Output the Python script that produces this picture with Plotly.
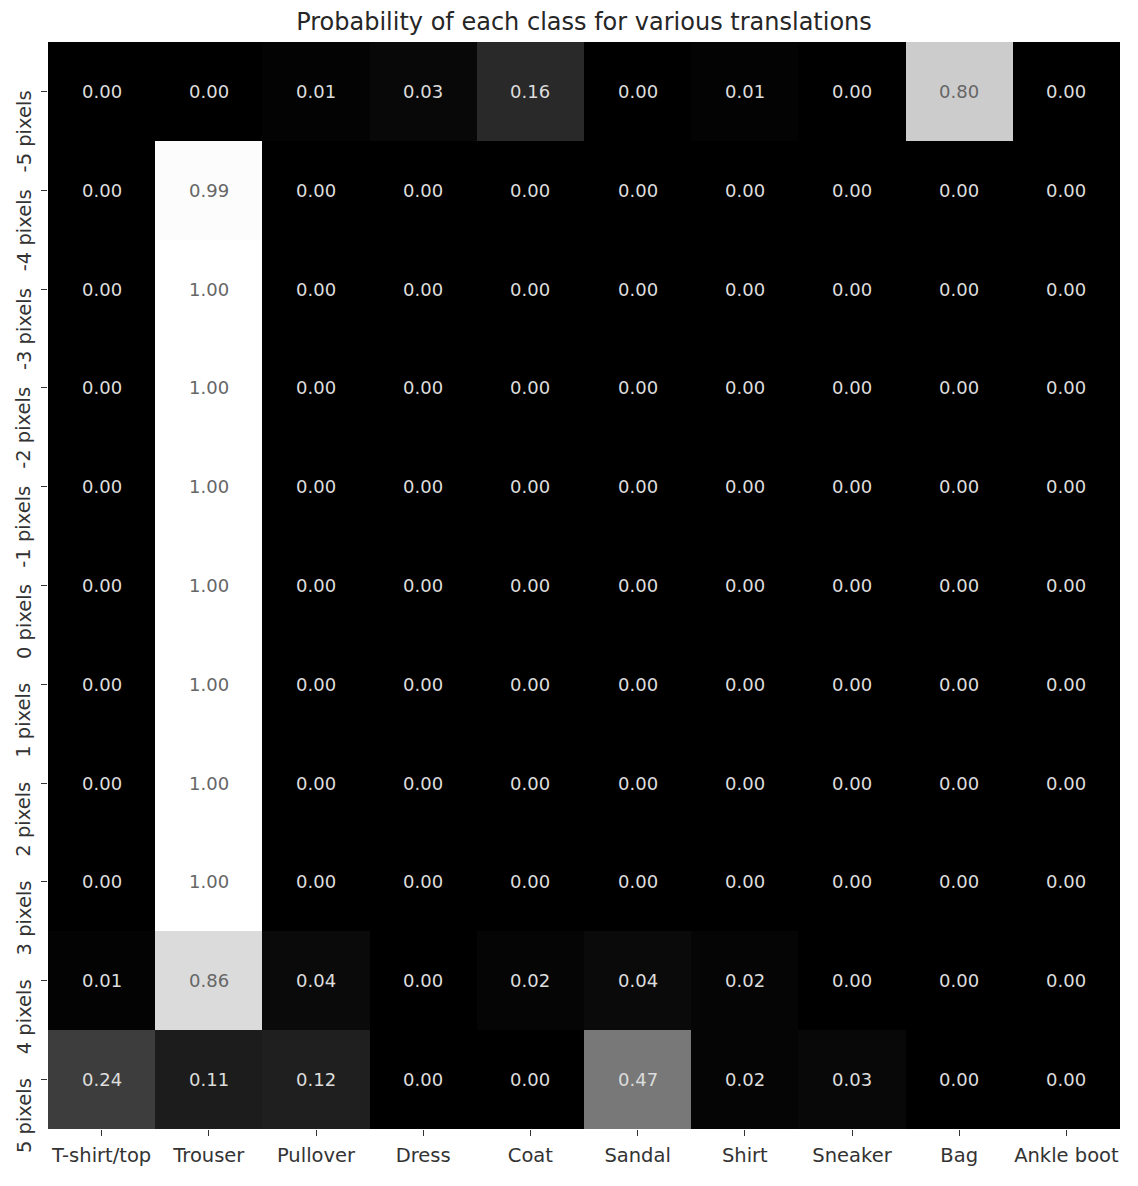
import plotly.graph_objects as go

classes = ["T-shirt/top", "Trouser", "Pullover", "Dress", "Coat",
           "Sandal", "Shirt", "Sneaker", "Bag", "Ankle boot"]
shifts = ["-5 pixels", "-4 pixels", "-3 pixels", "-2 pixels", "-1 pixels",
          "0 pixels", "1 pixels", "2 pixels", "3 pixels", "4 pixels", "5 pixels"]

row_m5 = [0.00, 0.00, 0.01, 0.03, 0.16, 0.00, 0.01, 0.00, 0.80, 0.00]
row_m4 = [0.00, 0.99, 0.00, 0.00, 0.00, 0.00, 0.00, 0.00, 0.00, 0.00]
row_m3 = [0.00, 1.00, 0.00, 0.00, 0.00, 0.00, 0.00, 0.00, 0.00, 0.00]
row_m2 = [0.00, 1.00, 0.00, 0.00, 0.00, 0.00, 0.00, 0.00, 0.00, 0.00]
row_m1 = [0.00, 1.00, 0.00, 0.00, 0.00, 0.00, 0.00, 0.00, 0.00, 0.00]
row_0 = [0.00, 1.00, 0.00, 0.00, 0.00, 0.00, 0.00, 0.00, 0.00, 0.00]
row_1 = [0.00, 1.00, 0.00, 0.00, 0.00, 0.00, 0.00, 0.00, 0.00, 0.00]
row_2 = [0.00, 1.00, 0.00, 0.00, 0.00, 0.00, 0.00, 0.00, 0.00, 0.00]
row_3 = [0.00, 1.00, 0.00, 0.00, 0.00, 0.00, 0.00, 0.00, 0.00, 0.00]
row_4 = [0.01, 0.86, 0.04, 0.00, 0.02, 0.04, 0.02, 0.00, 0.00, 0.00]
row_5 = [0.24, 0.11, 0.12, 0.00, 0.00, 0.47, 0.02, 0.03, 0.00, 0.00]

z = [row_m5, row_m4, row_m3, row_m2, row_m1, row_0, row_1, row_2, row_3, row_4, row_5]

FONT = "DejaVu Sans"

fig = go.Figure()
fig.add_trace(go.Heatmap(
    z=z, x=classes, y=shifts,
    colorscale=[[0, "#000000"], [1, "#ffffff"]],
    zmin=0, zmax=1, showscale=False, hoverinfo="skip",
))

annotations = []
for i, s in enumerate(shifts):
    for j, c in enumerate(classes):
        v = z[i][j]
        col = "#666666" if v > 0.6 else "#dddddd"
        annotations.append(dict(
            x=c, y=s, xref="x", yref="y", text=f"{v:.2f}", showarrow=False,
            font=dict(family=FONT, size=18, color=col),
        ))
    annotations.append(dict(
        x=0, y=s, xref="paper", yref="y", text=s, showarrow=False,
        textangle=-90, xanchor="center", yanchor="top", xshift=-24, yshift=3,
        font=dict(family=FONT, size=19.5, color="#333333"),
    ))

fig.update_layout(
    width=1138, height=1186,
    margin=dict(l=48, r=18, t=42, b=57, autoexpand=False),
    paper_bgcolor="white", plot_bgcolor="white",
    title=dict(text="Probability of each class for various translations",
               x=0.5, xref="paper", xanchor="center",
               y=1 - 22 / 1186, yref="container", yanchor="middle",
               automargin=False,
               font=dict(family=FONT, size=24, color="#262626")),
    annotations=annotations,
    xaxis=dict(range=[-0.5, len(classes) - 0.5], autorange=False,
               ticks="outside", ticklen=6, tickcolor="#333333", tickwidth=1,
               ticklabelstandoff=3,
               showgrid=False, zeroline=False, showline=False, automargin=False,
               tickfont=dict(family=FONT, size=19.5, color="#333333")),
    yaxis=dict(range=[len(shifts) - 0.5, -0.5], autorange=False,
               ticks="outside", ticklen=6,
               tickcolor="#333333", tickwidth=1, showticklabels=False,
               showgrid=False, zeroline=False, showline=False, automargin=False),
)

fig.write_html("out.html")
